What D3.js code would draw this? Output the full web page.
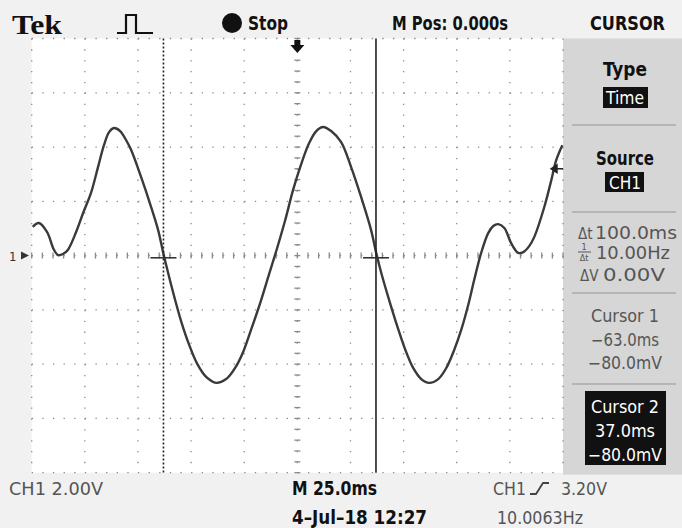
<!DOCTYPE html>
<html>
<head>
<meta charset="utf-8">
<script src="https://cdn.jsdelivr.net/npm/d3@7"></script>
<style>
  body { margin: 0; background: #fff; }
  svg { display: block; }
</style>
</head>
<body>
<svg id="scope" width="682" height="528"></svg>
<script>
// CH1 trace: time (ms) and level (V)
const traceMs = [-124.5, -121.6, -117.8, -114.5, -112.6, -110.3, -108.0, -104.1, -100.8, -97.1,
  -93.8, -91.0, -88.6, -86.3, -83.4, -80.6, -78.2, -73.5, -68.8, -65.5, -63.1, -60.8, -57.9,
  -54.6, -50.9, -47.1, -42.9, -38.2, -33.5, -29.3, -25.5, -21.8, -17.5, -13.3, -9.5, -5.7,
  -2.0, 1.8, 5.5, 8.9, 12.1, 15.9, 20.6, 25.3, 30.0, 34.7, 37.1, 39.5, 43.2, 47.0, 50.7,
  54.5, 58.3, 62.0, 66.3, 70.1, 73.8, 77.1, 80.4, 83.2, 86.5, 89.8, 92.2, 94.5, 97.4, 100.6,
  103.9, 106.3, 109.1, 111.5, 116.2, 119.5, 121.8, 124.7];
const traceV = [1.06, 1.20, 0.87, 0.21, 0.02, 0.06, 0.21, 0.87, 1.57, 2.31,
  3.26, 4.07, 4.55, 4.70, 4.59, 4.26, 3.89, 2.89, 1.79, 0.94, 0.10, -0.64, -1.52,
  -2.44, -3.29, -3.99, -4.47, -4.69, -4.55, -4.14, -3.55, -2.74, -1.75, -0.68, 0.28, 1.31,
  2.42, 3.37, 4.14, 4.59, 4.74, 4.59, 4.18, 3.26, 2.16, 0.94, 0.10, -0.64, -1.64, -2.60, -3.45,
  -4.14, -4.55, -4.69, -4.55, -4.14, -3.48, -2.74, -1.82, -0.90, 0.10, 0.83, 1.09, 1.16, 1.02, 0.46,
  0.10, 0.13, 0.35, 0.69, 1.79, 2.78, 3.52, 4.07];

// graticule divisions (25 ms/div, 2 V/div)
const timeDivs = [-125, -100, -75, -50, -25, 0, 25, 50, 75, 100, 125];
const voltDivs = [-8, -6, -4, -2, 0, 2, 4, 6, 8];

const cursorMs = [-63, 37];
const cursorV = -0.08;
const trigV = 3.2;

const headerLabels = ["Tek", "Stop", "M Pos: 0.000s", "CURSOR"];
const menuTitles = ["Type", "Source"];
const menuValues = ["Time", "CH1"];
const deltaLabels = ["100.0ms", "10.00Hz", "0.00V"];
const cursor1Lines = ["Cursor 1", "\u221263.0ms", "\u221280.0mV"];
const cursor2Lines = ["Cursor 2", "37.0ms", "\u221280.0mV"];
const footerLabels = ["CH1  2.00V", "M 25.0ms", "4\u2013Jul\u201318 12:27", "CH1", "3.20V", "10.0063Hz"];

const svg = d3.select("#scope");
const W = 682, H = 528;
const narrow = "'Liberation Sans Narrow', 'DejaVu Sans Condensed', 'Liberation Sans', sans-serif";

const x = d3.scaleLinear().domain([-125, 125]).range([31.7, 563]);
const y = d3.scaleLinear().domain([-8, 8]).range([472.7, 38.5]);

// bezel + screen backgrounds
svg.append("rect").attr("width", W).attr("height", H).attr("fill", "#f1f1f1");
svg.append("rect")
  .attr("x", x(-125)).attr("y", y(8))
  .attr("width", x(125) - x(-125)).attr("height", y(-8) - y(8))
  .attr("fill", "#fff");
svg.append("rect")
  .attr("x", x(125)).attr("y", y(8))
  .attr("width", W - x(125)).attr("height", y(-8) - y(8) + 2)
  .attr("fill", "#d6d6d6");

// dotted graticule
const divW = x(25) - x(0), divH = y(0) - y(2);
const grid = svg.append("g").attr("stroke", "#8a8a8a").attr("stroke-width", 1.3);
grid.selectAll("line.v").data(timeDivs).join("line")
  .attr("x1", d => x(d)).attr("x2", d => x(d))
  .attr("y1", y(8)).attr("y2", y(-8))
  .attr("stroke-dasharray", `1.3,${divH / 5 - 1.3}`);
grid.selectAll("line.h").data(voltDivs).join("line")
  .attr("x1", x(-125)).attr("x2", x(125))
  .attr("y1", d => y(d)).attr("y2", d => y(d))
  .attr("stroke-dasharray", `1.3,${divW / 5 - 1.3}`);

// minor ticks on the centre axes
const minorT = d3.range(-125, 125.1, 5);
const minorV = d3.range(-8, 8.01, 0.4);
grid.selectAll("line.mt").data(minorT).join("line")
  .attr("x1", d => x(d)).attr("x2", d => x(d))
  .attr("y1", y(0) - 3).attr("y2", y(0) + 3);
grid.selectAll("line.mv").data(minorV).join("line")
  .attr("x1", x(0) - 3).attr("x2", x(0) + 3)
  .attr("y1", d => y(d)).attr("y2", d => y(d));

// trace
const line = d3.line()
  .x(d => x(d[0]))
  .y(d => y(d[1]))
  .curve(d3.curveCatmullRom.alpha(0.5));
svg.append("path")
  .datum(d3.zip(traceMs, traceV))
  .attr("d", line)
  .attr("fill", "none")
  .attr("stroke", "#3a3a3a")
  .attr("stroke-width", 2.4);

// time cursors
svg.append("line")
  .attr("x1", x(cursorMs[0])).attr("x2", x(cursorMs[0]))
  .attr("y1", y(8)).attr("y2", y(-8))
  .attr("stroke", "#222").attr("stroke-width", 1.6)
  .attr("stroke-dasharray", "2,2");
svg.append("line")
  .attr("x1", x(cursorMs[1])).attr("x2", x(cursorMs[1]))
  .attr("y1", y(8)).attr("y2", y(-8))
  .attr("stroke", "#222").attr("stroke-width", 1.6);
svg.selectAll("line.cx").data(cursorMs).join("line")
  .attr("x1", d => x(d) - 13).attr("x2", d => x(d) + 13)
  .attr("y1", y(cursorV)).attr("y2", y(cursorV))
  .attr("stroke", "#333").attr("stroke-width", 1.6);

// trigger level marker (right edge)
const ty = y(trigV), tx = x(125);
svg.append("path")
  .attr("d", `M${tx - 12},${ty} L${tx - 6},${ty - 4} L${tx - 6},${ty + 4} Z M${tx - 7},${ty} H${tx}`)
  .attr("fill", "#222").attr("stroke", "#222").attr("stroke-width", 1.4);

// ground marker "1>" (left edge)
svg.append("text").attr("x", 9).attr("y", y(0) + 5)
  .attr("font-family", narrow).attr("font-size", 13).attr("fill", "#333").text("1");
svg.append("path")
  .attr("d", `M21,${y(0) - 4} L29,${y(0)} L21,${y(0) + 4} Z`)
  .attr("fill", "#333");

// trigger position arrow (top)
svg.append("path")
  .attr("d", `M${x(0) - 3},40 V45 H${x(0) - 7} L${x(0)},53 L${x(0) + 7},45 H${x(0) + 3} V40 Z`)
  .attr("fill", "#111");

// ---- header ----
const hdr = svg.append("g").attr("fill", "#111");
hdr.append("text").attr("x", 12).attr("y", 34)
  .attr("font-family", "'Liberation Serif', 'DejaVu Serif', serif")
  .attr("font-weight", "bold").attr("font-size", 27)
  .attr("textLength", 50).attr("lengthAdjust", "spacingAndGlyphs")
  .text(headerLabels[0]);
svg.append("path")
  .attr("d", "M117,33 H126 V15 H136 V33 H153")
  .attr("fill", "none").attr("stroke", "#111").attr("stroke-width", 2.2);
hdr.append("circle").attr("cx", 232).attr("cy", 23).attr("r", 10);
hdr.append("text").attr("x", 248).attr("y", 30)
  .attr("font-family", narrow).attr("font-weight", "bold").attr("font-size", 20)
  .attr("textLength", 40).attr("lengthAdjust", "spacingAndGlyphs")
  .text(headerLabels[1]);
hdr.append("text").attr("x", 392).attr("y", 30)
  .attr("font-family", narrow).attr("font-weight", "bold").attr("font-size", 19)
  .attr("textLength", 116).attr("lengthAdjust", "spacingAndGlyphs")
  .text(headerLabels[2]);
hdr.append("text").attr("x", 590).attr("y", 30)
  .attr("font-family", narrow).attr("font-weight", "bold").attr("font-size", 19)
  .attr("textLength", 75).attr("lengthAdjust", "spacingAndGlyphs")
  .text(headerLabels[3]);

// ---- side menu ----
const menu = svg.append("g");
const cx = 625;
function menuText(txt, yy, opts) {
  const t = menu.append("text")
    .attr("x", opts.x != null ? opts.x : cx).attr("y", yy)
    .attr("text-anchor", opts.anchor || "middle")
    .attr("font-family", narrow)
    .attr("font-weight", opts.bold ? "bold" : "normal")
    .attr("font-size", opts.size || 17)
    .attr("fill", opts.fill || "#555")
    .text(txt);
  if (opts.len) t.attr("textLength", opts.len).attr("lengthAdjust", "spacingAndGlyphs");
  return t;
}
menuText(menuTitles[0], 76, { bold: true, size: 20, fill: "#111", len: 44 });
menu.append("rect").attr("x", 603).attr("y", 87).attr("width", 45).attr("height", 21).attr("fill", "#111");
menuText(menuValues[0], 104, { size: 17, fill: "#fff", len: 38 });
menu.append("line").attr("x1", 572).attr("x2", 676).attr("y1", 125).attr("y2", 125)
  .attr("stroke", "#aaa").attr("stroke-width", 1.5);
menuText(menuTitles[1], 165, { bold: true, size: 20, fill: "#111", len: 58 });
menu.append("rect").attr("x", 605).attr("y", 172).attr("width", 39).attr("height", 20).attr("fill", "#111");
menuText(menuValues[1], 189, { size: 17, fill: "#fff", len: 32 });
menu.append("line").attr("x1", 572).attr("x2", 676).attr("y1", 212).attr("y2", 212)
  .attr("stroke", "#aaa").attr("stroke-width", 1.5);

// delta readouts
menuText("\u0394t", 239, { x: 578, anchor: "start", size: 15 });
menuText(deltaLabels[0], 239, { x: 595, anchor: "start", size: 17, len: 82 });
menuText("1", 250, { x: 584, size: 9 });
menu.append("line").attr("x1", 578).attr("x2", 591).attr("y1", 252).attr("y2", 252)
  .attr("stroke", "#555").attr("stroke-width", 1);
menuText("\u0394t", 261, { x: 584, size: 9 });
menuText(deltaLabels[1], 259, { x: 596, anchor: "start", size: 17, len: 74 });
menuText("\u0394V", 281, { x: 580, anchor: "start", size: 15 });
menuText(deltaLabels[2], 281, { x: 603, anchor: "start", size: 17, len: 62 });
menu.append("line").attr("x1", 572).attr("x2", 676).attr("y1", 293).attr("y2", 293)
  .attr("stroke", "#aaa").attr("stroke-width", 1.5);

menuText(cursor1Lines[0], 322, { size: 17, len: 68 });
menuText(cursor1Lines[1], 346, { size: 17, len: 68 });
menuText(cursor1Lines[2], 369, { size: 17, len: 74 });
menu.append("line").attr("x1", 572).attr("x2", 676).attr("y1", 384).attr("y2", 384)
  .attr("stroke", "#aaa").attr("stroke-width", 1.5);

menu.append("rect").attr("x", 585).attr("y", 391).attr("width", 81).attr("height", 74).attr("fill", "#111");
menuText(cursor2Lines[0], 413, { size: 17, fill: "#fff", len: 68 });
menuText(cursor2Lines[1], 437, { size: 17, fill: "#fff", len: 60 });
menuText(cursor2Lines[2], 461, { size: 17, fill: "#fff", len: 74 });

// ---- footer ----
const foot = svg.append("g").attr("font-family", narrow);
foot.append("text").attr("x", 9).attr("y", 495).attr("font-size", 17).attr("fill", "#555")
  .attr("textLength", 94).attr("lengthAdjust", "spacingAndGlyphs").text(footerLabels[0]);
foot.append("text").attr("x", 292).attr("y", 495).attr("font-size", 19).attr("font-weight", "bold")
  .attr("fill", "#111").attr("textLength", 85).attr("lengthAdjust", "spacingAndGlyphs").text(footerLabels[1]);
foot.append("text").attr("x", 292).attr("y", 524).attr("font-size", 19).attr("font-weight", "bold")
  .attr("fill", "#111").attr("textLength", 135).attr("lengthAdjust", "spacingAndGlyphs").text(footerLabels[2]);
foot.append("text").attr("x", 493).attr("y", 495).attr("font-size", 17).attr("fill", "#555")
  .attr("textLength", 33).attr("lengthAdjust", "spacingAndGlyphs").text(footerLabels[3]);
svg.append("path").attr("d", "M530,494 H536 L543,483 H549")
  .attr("fill", "none").attr("stroke", "#444").attr("stroke-width", 1.8);
foot.append("text").attr("x", 561).attr("y", 495).attr("font-size", 17).attr("fill", "#555")
  .attr("textLength", 46).attr("lengthAdjust", "spacingAndGlyphs").text(footerLabels[4]);
foot.append("text").attr("x", 497).attr("y", 524).attr("font-size", 17).attr("fill", "#555")
  .attr("textLength", 86).attr("lengthAdjust", "spacingAndGlyphs").text(footerLabels[5]);
</script>
</body>
</html>
